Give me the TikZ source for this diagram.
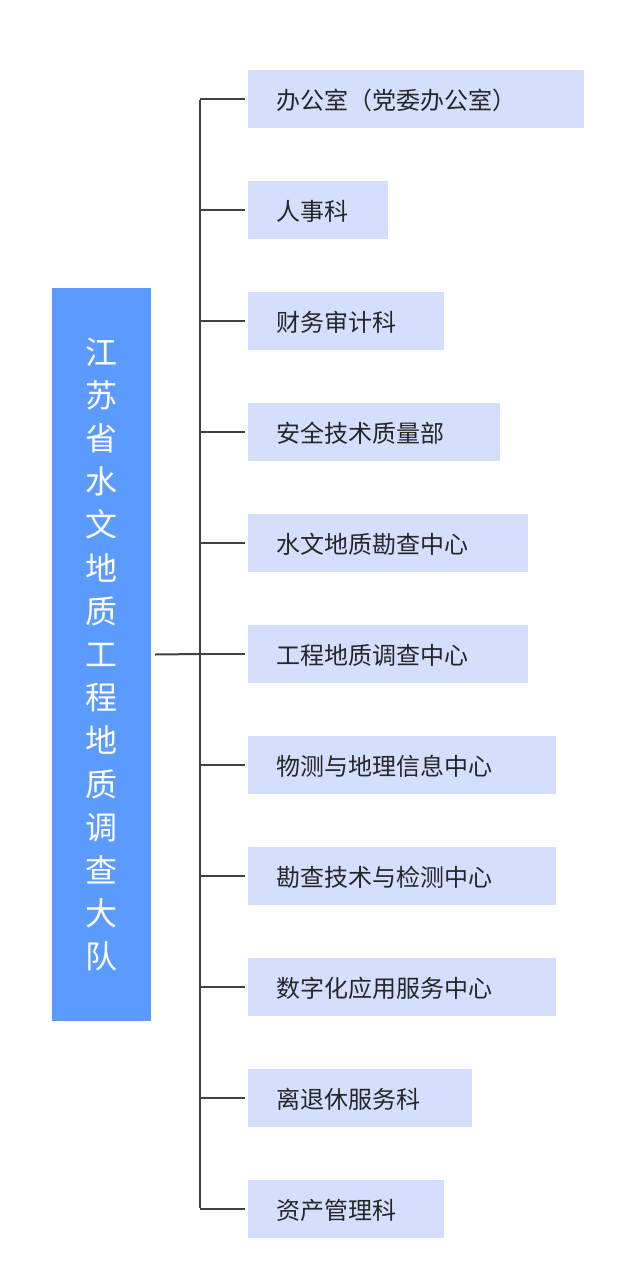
\documentclass[tikz,border=0pt]{standalone}
\usepackage{fontspec}
\setmainfont{Noto Sans CJK SC}
\definecolor{headblue}{HTML}{5B9BFF}
\definecolor{itemblue}{HTML}{D3DFFD}
\definecolor{linegray}{HTML}{404040}
\begin{document}
\begin{tikzpicture}[x=1pt,y=-1pt,
    head/.style={fill=headblue,text=white,inner sep=0pt,minimum width=99pt,minimum height=733pt,
      font=\fontsize{32}{43.2}\selectfont,align=center,text width=40pt},
    item/.style={fill=itemblue,text=black!85,anchor=west,inner xsep=28pt,inner ysep=0pt,
      minimum height=58pt,text depth=0pt,font=\fontsize{24}{28}\selectfont},
    conn/.style={draw=linegray,line width=2pt}]
  \useasboundingbox (0,0) rectangle (639,1287);
  % main unit
  \node[head] (unit) at (101.5,654.5) {江\\苏\\省\\水\\文\\地\\质\\工\\程\\地\\质\\调\\查\\大\\队};
  % departments
  \foreach \name/\w [count=\i] in {办公室（党委办公室）/336,人事科/140,财务审计科/196,安全技术质量部/252,
      水文地质勘查中心/280,工程地质调查中心/280,物测与地理信息中心/308,勘查技术与检测中心/308,
      数字化应用服务中心/308,离退休服务科/224,资产管理科/196}{
    \node[item,minimum width=\w pt,text width=\w pt-56pt] (dept\i) at (248,{99+111*(\i-1)}) {\name};
    \coordinate (tap\i) at (200,{99+111*(\i-1)});
    \draw[conn] (tap\i) -- ([xshift=-3pt]dept\i.west);
  }
  % trunk
  \draw[conn] ([yshift=-1pt]tap1) -- ([yshift=1pt]tap11);
  \draw[conn] ([xshift=4pt]unit.east) -- (tap6);
\end{tikzpicture}
\end{document}
